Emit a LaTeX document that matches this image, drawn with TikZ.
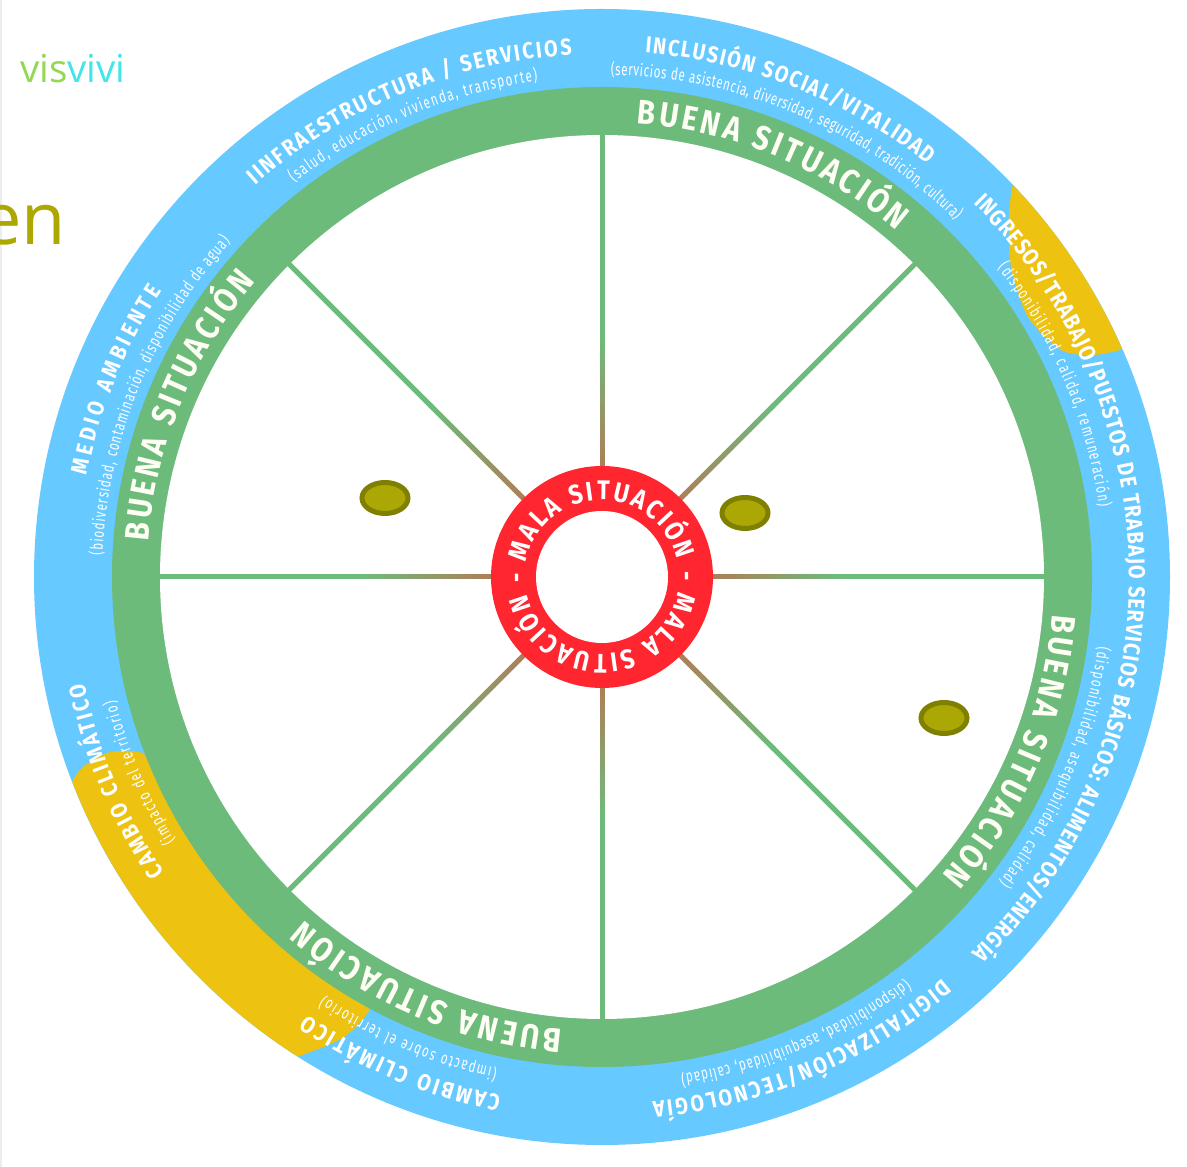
\documentclass[tikz,border=0pt]{standalone}
\usepackage{fontspec}
\usetikzlibrary{decorations.text,shapes.geometric}
\newfontfamily\hfam[FakeStretch=0.86]{Fira Sans}
\newfontfamily\sfam[FakeStretch=0.68]{Fira Sans}
\newfontfamily\ofam{Open Sans}
\definecolor{ringblue}{HTML}{66C9FF}
\definecolor{ringgreen}{HTML}{6DBB7B}
\definecolor{ringyellow}{HTML}{EDC211}
\definecolor{ringred}{HTML}{FF2630}
\definecolor{spokebrown}{HTML}{AE7E58}
\definecolor{dotfill}{HTML}{ABA705}
\definecolor{dotline}{HTML}{808000}
\definecolor{enolive}{HTML}{ACA800}
\definecolor{visgreen}{HTML}{92D850}
\definecolor{vivicyan}{HTML}{3FE6EA}
\newcommand\hd{\hfam\bfseries\fontsize{23}{27}\selectfont\color{white}}
\newcommand\sbt{\sfam\fontsize{17}{20}\selectfont\color{white}}
\newcommand\bn{\hfam\bfseries\fontsize{34}{39}\selectfont\color{white!96!yellow}}
\newcommand\ml{\hfam\bfseries\fontsize{27}{31}\selectfont\color{white}}
% radius, start angle, end angle, format, text
\newcommand\arctxt[5]{%
  \path[decorate,decoration={text along path,text={|#4|#5},text align={fit to path}}]
    ([shift={(#2:#1pt)}]c) arc[start angle=#2,end angle=#3,radius=#1pt];}
\newcommand\spoke[1]{%
  \begin{scope}[shift={(c)},rotate=#1]
    \foreach \k in {0,...,26} {%
      \pgfmathsetmacro\rr{108+5*\k}
      \pgfmathsetmacro\rs{\rr+5.6}
      \pgfmathsetmacro\mx{100-100*\k/26}
      \fill[spokebrown!\mx!ringgreen] (\rr pt,-2.5pt) rectangle (\rs pt,2.5pt);
    }
    \fill[ringgreen] (240pt,-2.5pt) rectangle (445pt,2.5pt);
  \end{scope}}
\tikzset{dotmark/.style={ellipse,draw=dotline,fill=dotfill,line width=5pt,minimum width=46pt,minimum height=31pt,inner sep=0pt}}
\begin{document}
\begin{tikzpicture}[x=1pt,y=1pt]
\useasboundingbox (0,0) rectangle (1187,1167);
\fill[white] (0,0) rectangle (1187,1167);
\fill[black!7] (0,0) rectangle (2,1167);
\coordinate (c) at (602,590);
% rings
\fill[ringblue] (c) circle[radius=568pt];
\fill[ringyellow] ([shift={(43.6:568pt)}]c) arc[start angle=43.6,end angle=23.7,radius=568pt]
  -- plot[smooth] coordinates {(1120,817) (1093,812) (1061,817) (1028,850) (1011,900) (1009,950) (1012,980)} -- cycle;
\fill[ringyellow] ([shift={(201.1:568pt)}]c) arc[start angle=201.1,end angle=237.6,radius=568pt]
  -- plot[smooth] coordinates {(297,110) (333,124) (353,137) (370,157)}
  -- plot[smooth] coordinates {(143,414) (130,416) (107,414) (83,400) (72,385)} -- cycle;
\fill[ringgreen] (c) circle[radius=490pt];
\fill[white] (c) circle[radius=442pt];
% spokes
\spoke{0}\spoke{45}\spoke{90}\spoke{135}\spoke{180}\spoke{225}\spoke{270}\spoke{315}
% centre ring
\fill[ringred] (c) circle[radius=111pt];
\fill[white] (c) circle[radius=66pt];
% ring labels
\arctxt{455}{85.6}{49.6}{\bn}{BUENA SITUACIÓN}
\arctxt{452}{-4.7}{-41.3}{\bn}{BUENA SITUACIÓN}
\arctxt{454}{265}{229}{\bn}{BUENA SITUACIÓN}
\arctxt{455}{175.5}{139.5}{\bn}{BUENA SITUACIÓN}
\arctxt{77}{184}{13}{\ml}{- MALA SITUACIÓN}
\arctxt{77}{4}{-167}{\ml}{- MALA SITUACIÓN}
\arctxt{526}{85.3}{51.7}{\hd}{INCLUSIÓN SOCIAL/VITALIDAD}
\arctxt{502}{89}{45.3}{\sbt}{(servicios de asistencia, diversidad, seguridad, tradición, cultura)}
\arctxt{527}{45.2}{-45.5}{\hd}{INGRESOS/TRABAJO/PUESTOS DE TRABAJO SERVICIOS BÁSICOS: ALIMENTOS/ENERGÍA}
\arctxt{502}{38}{8}{\sbt}{(disponibilidad, calidad, remuneración)}
\arctxt{501}{-8}{-37.5}{\sbt}{(disponibilidad, asequibilidad, calidad)}
\arctxt{527}{-49.7}{-84.5}{\hd}{DIGITALIZACIÓN/TECNOLOGÍA}
\arctxt{504}{-53}{-81}{\sbt}{(disponibilidad, asequibilidad, calidad)}
\arctxt{528}{259}{236}{\hd}{CAMBIO CLIMÁTICO}
\arctxt{503}{258}{236.5}{\sbt}{(impacto sobre el territorio)}
\arctxt{528}{214}{191.6}{\hd}{CAMBIO CLIMÁTICO}
\arctxt{502}{211.7}{194.2}{\sbt}{(impacto del territorio)}
\arctxt{525}{168.8}{147}{\hd}{MEDIO AMBIENTE}
\arctxt{500}{177.5}{138}{\sbt}{(biodiversidad, contaminación, disponibilidad de agua)}
\arctxt{523}{131.5}{93.3}{\hd}{IINFRAESTRUCTURA / SERVICIOS}
\arctxt{500}{128}{97.4}{\sbt}{(salud, educación, vivienda, transporte)}
% dots
\node[dotmark] (d1) at (385,669) {};
\node[dotmark] (d2) at (745,654) {};
\node[dotmark] (d3) at (944,449) {};
% corner texts
\node[anchor=base west,inner sep=0pt] (vis) at (20,1084)
  {\ofam\fontsize{38.5}{42}\selectfont\textcolor{visgreen}{vis}\textcolor{vivicyan}{vivi}};
\node[anchor=base east,inner sep=0pt] (en) at (66,922)
  {\ofam\fontsize{72}{80}\selectfont\textcolor{enolive}{en}};
\end{tikzpicture}
\end{document}
